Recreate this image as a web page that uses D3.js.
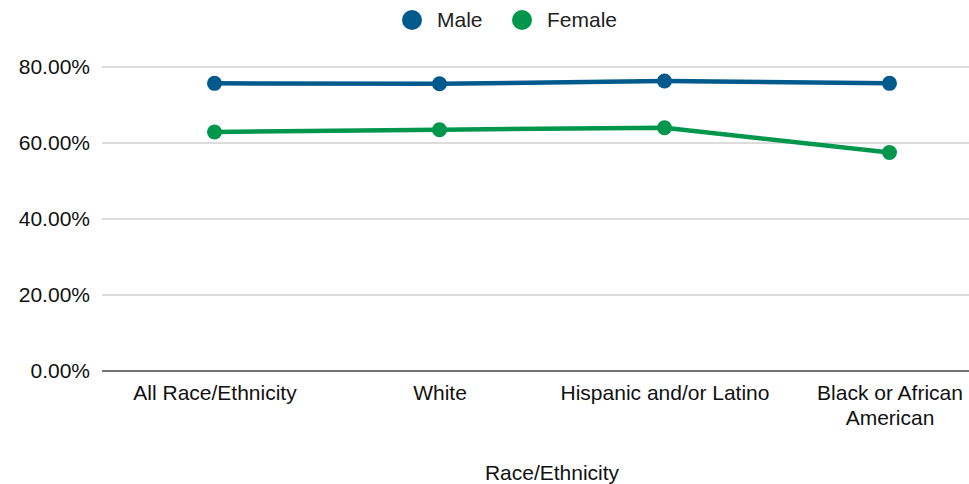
<!DOCTYPE html>
<html>
<head>
<meta charset="utf-8">
<script src="https://cdn.jsdelivr.net/npm/d3@7"></script>
<style>
  html, body { margin: 0; padding: 0; background: #fff; }
  svg { display: block; font-family: "Liberation Sans", Arial, sans-serif; }
</style>
</head>
<body>
<svg id="chart" width="969" height="484"></svg>
<script>
// Share of respondents by race/ethnicity and sex
const categories = ["All Race/Ethnicity", "White", "Hispanic and/or Latino", "Black or African American"];
const maleValues = [0.757, 0.756, 0.763, 0.757];
const femaleValues = [0.629, 0.635, 0.640, 0.575];
const yTicks = [0, 0.2, 0.4, 0.6, 0.8];
const seriesNames = ["Male", "Female"];
const seriesColors = ["#005a8c", "#00964b"];

const svg = d3.select("#chart");
const W = 969, H = 484;
const margin = { left: 102, top: 67, bottom: 113 };
const plotBottom = H - margin.bottom;
const fontSize = 21;

const x = d3.scalePoint()
  .domain(categories)
  .range([margin.left, margin.left + 900])
  .padding(0.5);

const y = d3.scaleLinear()
  .domain([0, 0.8])
  .range([plotBottom, margin.top]);

// Horizontal gridlines
svg.append("g")
  .selectAll("line")
  .data(yTicks.filter(d => d > 0))
  .join("line")
  .attr("x1", margin.left)
  .attr("x2", W)
  .attr("y1", d => y(d))
  .attr("y2", d => y(d))
  .attr("stroke", "#d0d0d0")
  .attr("stroke-width", 1.5);

// Y axis labels
const yAxis = d3.axisLeft(y)
  .tickValues(yTicks)
  .tickFormat(d3.format(".2%"))
  .tickSize(0)
  .tickPadding(12);
const yg = svg.append("g")
  .attr("transform", `translate(${margin.left},0)`)
  .call(yAxis);
yg.select(".domain").remove();
yg.selectAll("text")
  .attr("font-size", fontSize)
  .attr("font-family", "Liberation Sans, Arial, sans-serif")
  .attr("fill", "#111");

// Baseline
svg.append("line")
  .attr("x1", margin.left)
  .attr("x2", W)
  .attr("y1", y(0))
  .attr("y2", y(0))
  .attr("stroke", "#444")
  .attr("stroke-width", 1.5);

// X axis labels (wrapped)
const xAxis = d3.axisBottom(x).tickSize(0).tickPadding(0);
const xg = svg.append("g")
  .attr("transform", `translate(0,${y(0)})`)
  .call(xAxis);
xg.select(".domain").remove();
xg.selectAll("text").remove();
const wrapped = {
  "Black or African American": ["Black or African", "American"]
};
xg.selectAll(".tick").each(function(d) {
  const lines = wrapped[d] || [d];
  const t = d3.select(this).append("text")
    .attr("text-anchor", "middle")
    .attr("font-size", fontSize)
    .attr("fill", "#111");
  lines.forEach((ln, i) => {
    t.append("tspan").attr("x", 0).attr("y", 29 + i * 25).text(ln);
  });
});

// Axis title
svg.append("text")
  .attr("x", 552)
  .attr("y", 480)
  .attr("text-anchor", "middle")
  .attr("font-size", fontSize)
  .attr("fill", "#111")
  .text("Race/Ethnicity");

// Series lines and points
const series = [maleValues, femaleValues];
const line = d3.line()
  .x((d, i) => x(categories[i]))
  .y(d => y(d));

series.forEach((vals, si) => {
  svg.append("path")
    .datum(vals)
    .attr("d", line)
    .attr("fill", "none")
    .attr("stroke", seriesColors[si])
    .attr("stroke-width", 4.5);
  svg.append("g")
    .selectAll("circle")
    .data(vals)
    .join("circle")
    .attr("cx", (d, i) => x(categories[i]))
    .attr("cy", d => y(d))
    .attr("r", 7.5)
    .attr("fill", seriesColors[si]);
});

// Legend
const legendItems = [
  { name: seriesNames[0], color: seriesColors[0], cx: 412 },
  { name: seriesNames[1], color: seriesColors[1], cx: 522 }
];
const lg = svg.append("g");
legendItems.forEach(it => {
  lg.append("circle")
    .attr("cx", it.cx)
    .attr("cy", 20)
    .attr("r", 10)
    .attr("fill", it.color);
  lg.append("text")
    .attr("x", it.cx + 25)
    .attr("y", 27)
    .attr("font-size", fontSize)
    .attr("fill", "#222")
    .text(it.name);
});
</script>
</body>
</html>
